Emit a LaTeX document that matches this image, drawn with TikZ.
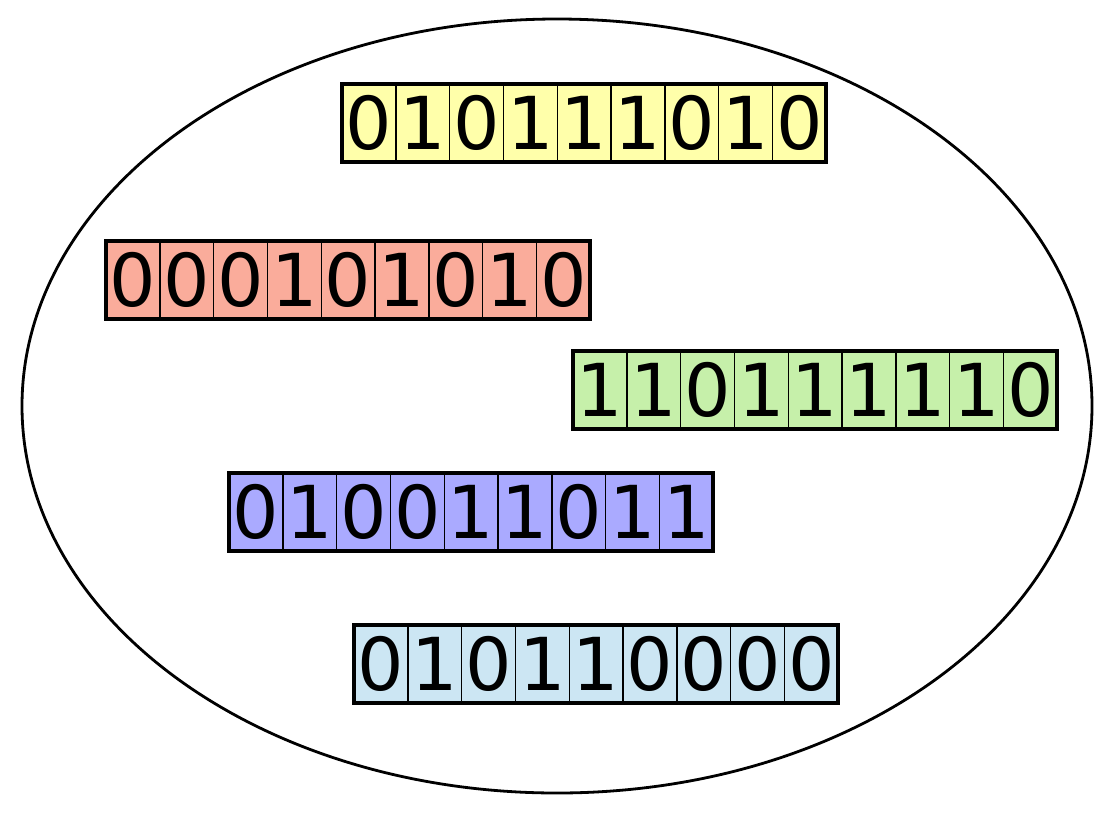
\documentclass[tikz,border=0pt]{standalone}
\usepackage{fontspec}
\setmainfont{DejaVu Sans}
\usetikzlibrary{shapes.geometric}
\definecolor{cyel}{RGB}{255,255,170}
\definecolor{cred}{RGB}{250,172,155}
\definecolor{cgrn}{RGB}{198,240,170}
\definecolor{cblu}{RGB}{170,170,255}
\definecolor{clbl}{RGB}{204,230,243}
\tikzset{
  cell/.style={draw, line width=1.4pt, minimum width=53.8pt, minimum height=78pt,
    inner sep=0pt, outer sep=0pt, anchor=north west, font=\fontsize{73}{73}\selectfont},
  rowframe/.style={draw, line width=3.5pt},
  outerring/.style={draw, ellipse, line width=2.8pt, inner sep=0pt,
    minimum width=1070pt, minimum height=774pt}
}
\newcommand\bitrow[5]{%
  \foreach \b [count=\i] in {#5} {
    \node[cell, fill=#4] (#1-\i) at ({#2+(\i-1)*53.8}, #3) {\b};
  }
  \draw[rowframe] (#1-1.north west) rectangle (#1-9.south east);
}
\begin{document}
\begin{tikzpicture}[x=1pt, y=-1pt]
  \useasboundingbox (0,0) rectangle (1113,815);
  \node[outerring] (ring) at (557,406) {};
  \bitrow{ry}{342}{84}{cyel}{0,1,0,1,1,1,0,1,0}
  \bitrow{rr}{106}{241}{cred}{0,0,0,1,0,1,0,1,0}
  \bitrow{rg}{573}{351}{cgrn}{1,1,0,1,1,1,1,1,0}
  \bitrow{rb}{229}{473}{cblu}{0,1,0,0,1,1,0,1,1}
  \bitrow{rl}{354}{625}{clbl}{0,1,0,1,1,0,0,0,0}
\end{tikzpicture}
\end{document}
